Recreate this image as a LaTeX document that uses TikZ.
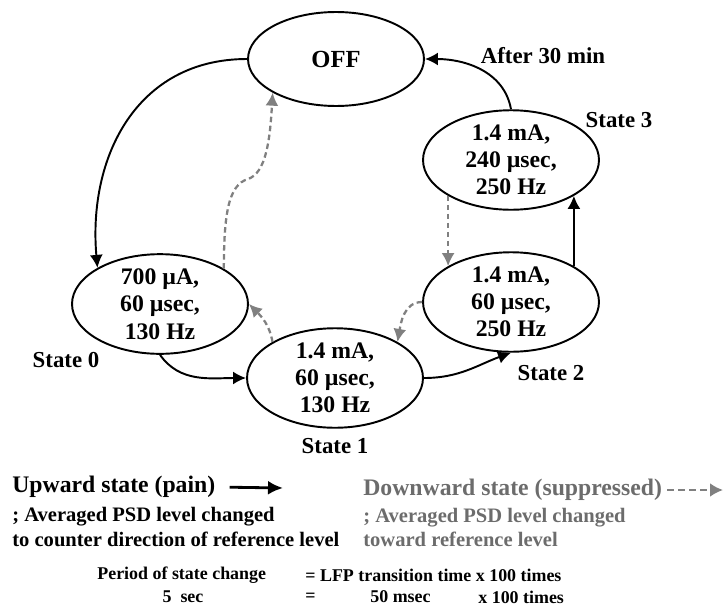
\documentclass[tikz,border=0pt]{standalone}
\usepackage{fontspec}
\setmainfont{Liberation Serif}
\usetikzlibrary{shapes.geometric,arrows.meta}
\definecolor{downline}{RGB}{128,128,128}
\definecolor{downtext}{RGB}{108,108,108}

\begin{document}
\begin{tikzpicture}[
				x=0.02cm, y=0.02cm,
				state/.style={ellipse, draw, line width=1.1pt, minimum width=3.52cm, minimum height=1.88cm, inner sep=0pt, align=center, font=\bfseries\fontsize{13.5}{15.5}\selectfont},
				statename/.style={inner sep=0pt, font=\bfseries\fontsize{13}{15}\selectfont},
				upedge/.style={draw, line width=1.1pt, -{Latex[length=2.6mm,width=2.6mm]}},
				downedge/.style={draw, downline, line width=1.3pt, dash pattern=on 1.1mm off 0.7mm, -{Latex[length=2.6mm,width=2.6mm]}},
				head/.style={anchor=west, inner sep=0pt, font=\bfseries\fontsize{13.5}{15}\selectfont},
				note/.style={anchor=west, inner sep=0pt, align=left, font=\bfseries\fontsize{11.7}{13.7}\selectfont},
				period/.style={anchor=west, inner sep=0pt, font=\bfseries\fontsize{10.2}{12}\selectfont}
				]
				\useasboundingbox (0,0) rectangle (726,-605);
				
				% Các trạng thái
				\node[state, font=\bfseries\fontsize{14}{16}\selectfont] (off) at (336,-59) {OFF};
				\node[state] (s3) at (511,-160) {1.4 mA,\\240 µsec,\\250 Hz};
				\node[state] (s2) at (511,-302) {1.4 mA,\\60 µsec,\\250 Hz};
				\node[state] (s1) at (335,-378) {1.4 mA,\\60 µsec,\\130 Hz};
				\node[state] (s0) at (160,-304) {700 µA,\\60 µsec,\\130 Hz};
				
				\node[statename] (name0) at (66,-360) {State 0};
				\node[statename] (name1) at (335,-446) {State 1};
				\node[statename] (name2) at (551,-373) {State 2};
				\node[statename] (name3) at (619,-120) {State 3};
				\node[statename] (after) at (543,-56) {After 30 min};
				
				% Chuyển trạng thái lên
				\draw[upedge] (off.west) to[out=180, in=95, looseness=1.1] (s0.150);
				\draw[upedge] (s0.south) to[out=-55, in=180] (s1.west);
				\draw[upedge] (s1.east) to[out=0, in=200] (s2.south);
				\draw[upedge] (s2.north east) -- (s3.south east);
				\draw[upedge] (s3.north) to[out=100, in=0] (off.east);
				
				% Chuyển trạng thái xuống
				\coordinate (bend) at (248,-179);
				\draw[downedge] (s3.south west) -- (s2.north west);
				\draw[downedge] (s2.west) to[out=180, in=80] (s1.30);
				\draw[downedge] (s1.150) to[out=100, in=-45] (s0.east);
				\draw[downedge] (s0.29) .. controls (224,-215) and (228,-185) .. (bend)
				.. controls (266,-173) and (270,-140) .. (off.208);
				
				% Chú thích
				\node[head] (uphead) at (12,-487) {Upward state (pain)};
				\coordinate (upend) at (283,-488);
				\draw[line width=1.6pt, -{Latex[length=3mm,width=2.8mm]}, shorten <=2.8mm] (uphead.east) -- (upend);
				\node[note] (upnote) at (12,-527) {; Averaged PSD level changed\\to counter direction of reference level};
				
				\node[head, text=downtext] (downhead) at (363,-490) {Downward state (suppressed)};
				\coordinate (downend) at (723,-490);
				\draw[downline, line width=1.6pt, dash pattern=on 1.4mm off 0.8mm, -{Latex[length=2.6mm,width=2.8mm]}, shorten <=1mm] (downhead.east) -- (downend);
				\node[note, text=downtext] (downnote) at (363,-527) {; Averaged PSD level changed\\toward reference level};
				
				\node[period] (period) at (97,-575) {Period of state change};
				\node[period] (rule) at (305,-575) {= LFP transition time x 100 times};
				\node[period, anchor=center] (sec) at (183,-597) {5\ \ sec};
				\node[period] (eq) at (305,-597) {=};
				\node[period] (msec) at (370,-597) {50 msec};
				\node[period] (times) at (478,-597) {x 100 times};
				
			\end{tikzpicture}
\end{document}
